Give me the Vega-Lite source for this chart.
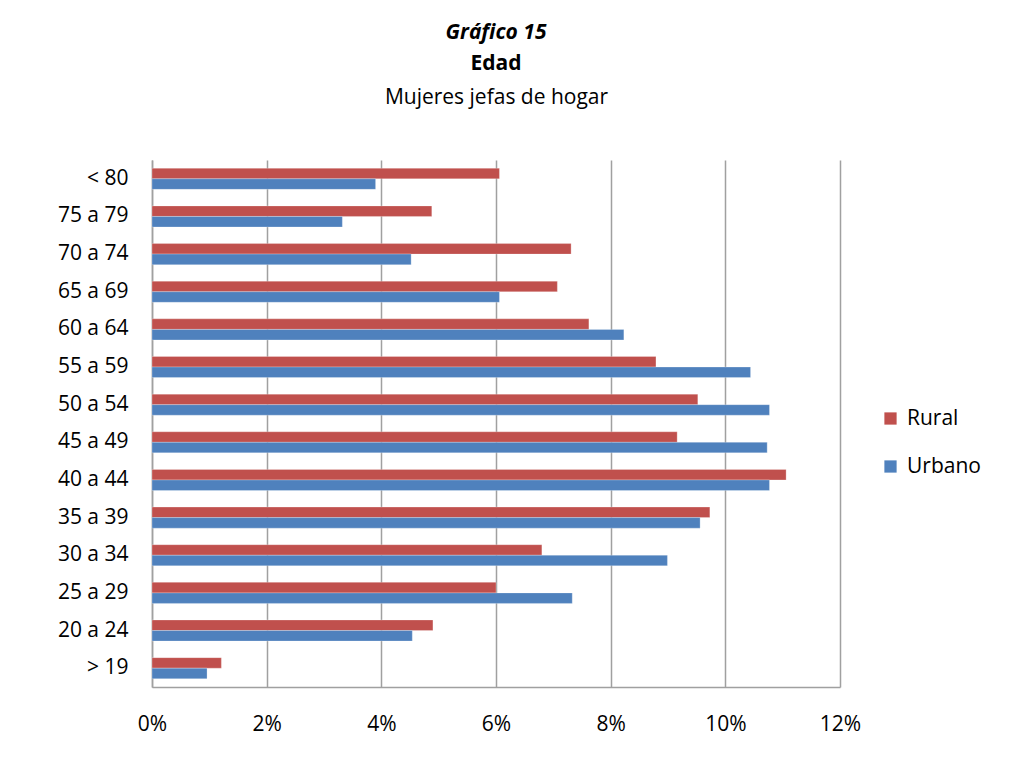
{
  "$schema": "https://vega.github.io/schema/vega-lite/v6.json",
  "width": 688,
  "height": 527,
  "autosize": {"type": "none"},
  "padding": {"left": 152, "top": 160, "right": 178, "bottom": 76},
  "background": "white",
  "config": {
    "font": "Open Sans",
    "view": {"stroke": null},
    "axis": {"labelFont": "Open Sans", "titleFont": "Open Sans"},
    "legend": {"labelFont": "Open Sans"}
  },
  "title": {
    "text": "Gráfico 15",
    "subtitle": "Edad",
    "anchor": "middle",
    "font": "Open Sans",
    "fontSize": 21,
    "fontStyle": "italic",
    "fontWeight": "bold",
    "color": "#000000",
    "subtitleFont": "Open Sans",
    "subtitleFontSize": 21,
    "subtitleFontWeight": "bold",
    "subtitleColor": "#000000",
    "subtitlePadding": 10,
    "offset": 12
  },
  "data": {
    "values": [
      {"edad": "< 80", "zona": "Rural", "pct": 0.0606},
      {"edad": "< 80", "zona": "Urbano", "pct": 0.0390},
      {"edad": "75 a 79", "zona": "Rural", "pct": 0.0488},
      {"edad": "75 a 79", "zona": "Urbano", "pct": 0.0332},
      {"edad": "70 a 74", "zona": "Rural", "pct": 0.0731},
      {"edad": "70 a 74", "zona": "Urbano", "pct": 0.0452},
      {"edad": "65 a 69", "zona": "Rural", "pct": 0.0707},
      {"edad": "65 a 69", "zona": "Urbano", "pct": 0.0606},
      {"edad": "60 a 64", "zona": "Rural", "pct": 0.0762},
      {"edad": "60 a 64", "zona": "Urbano", "pct": 0.0823},
      {"edad": "55 a 59", "zona": "Rural", "pct": 0.0879},
      {"edad": "55 a 59", "zona": "Urbano", "pct": 0.1044},
      {"edad": "50 a 54", "zona": "Rural", "pct": 0.0952},
      {"edad": "50 a 54", "zona": "Urbano", "pct": 0.1077},
      {"edad": "45 a 49", "zona": "Rural", "pct": 0.0916},
      {"edad": "45 a 49", "zona": "Urbano", "pct": 0.1073},
      {"edad": "40 a 44", "zona": "Rural", "pct": 0.1106},
      {"edad": "40 a 44", "zona": "Urbano", "pct": 0.1077},
      {"edad": "35 a 39", "zona": "Rural", "pct": 0.0973},
      {"edad": "35 a 39", "zona": "Urbano", "pct": 0.0956},
      {"edad": "30 a 34", "zona": "Rural", "pct": 0.0680},
      {"edad": "30 a 34", "zona": "Urbano", "pct": 0.0899},
      {"edad": "25 a 29", "zona": "Rural", "pct": 0.0600},
      {"edad": "25 a 29", "zona": "Urbano", "pct": 0.0733},
      {"edad": "20 a 24", "zona": "Rural", "pct": 0.0490},
      {"edad": "20 a 24", "zona": "Urbano", "pct": 0.0454},
      {"edad": "> 19", "zona": "Rural", "pct": 0.0121},
      {"edad": "> 19", "zona": "Urbano", "pct": 0.0096}
    ]
  },
  "resolve": {"axis": {"x": "independent"}},
  "layer": [
    {
      "mark": {"type": "bar", "stroke": "#ffffff", "strokeOpacity": 0.5, "strokeWidth": 0.5},
      "encoding": {
        "y": {
          "field": "edad",
          "type": "nominal",
          "sort": null,
          "scale": {"paddingInner": 0.44, "paddingOuter": 0.22},
          "axis": {
            "title": null,
            "labelFontSize": 21,
            "labelColor": "#000000",
            "labelPadding": 24,
            "ticks": false,
            "domainColor": "#a0a0a0",
            "domainWidth": 1.5
          }
        },
        "yOffset": {
          "field": "zona",
          "type": "nominal",
          "sort": ["Rural", "Urbano"]
        },
        "x": {
          "field": "pct",
          "type": "quantitative",
          "scale": {"domain": [0, 0.12], "nice": false},
          "axis": {
            "orient": "bottom",
            "title": null,
            "format": ".0%",
            "values": [0, 0.02, 0.04, 0.06, 0.08, 0.1, 0.12],
            "labelFontSize": 21,
            "labelColor": "#000000",
            "labelPadding": 26,
            "ticks": false,
            "domainColor": "#a0a0a0",
            "domainWidth": 1.5,
            "grid": true,
            "gridColor": "#a0a0a0",
            "gridWidth": 1.5,
            "labelFlush": false
          }
        },
        "color": {
          "field": "zona",
          "type": "nominal",
          "sort": ["Rural", "Urbano"],
          "scale": {"domain": ["Rural", "Urbano"], "range": ["#C0504D", "#4F81BD"]},
          "legend": {
            "title": null,
            "orient": "none",
            "legendX": 728,
            "legendY": 248,
            "symbolType": "square",
            "symbolSize": 150,
            "symbolStrokeWidth": 0,
            "labelFontSize": 21,
            "labelColor": "#000000",
            "labelOffset": 6,
            "rowPadding": 26
          }
        }
      }
    },
    {
      "mark": {"type": "bar", "opacity": 0},
      "encoding": {
        "y": {"field": "edad", "type": "nominal", "sort": null},
        "x": {
          "field": "pct",
          "type": "quantitative",
          "axis": {
            "orient": "top",
            "title": "Mujeres jefas de hogar",
            "titleFontSize": 21,
            "titleFontWeight": "normal",
            "titleColor": "#000000",
            "titlePadding": 53,
            "labels": false,
            "ticks": false,
            "domain": false,
            "grid": false
          }
        }
      }
    }
  ]
}
